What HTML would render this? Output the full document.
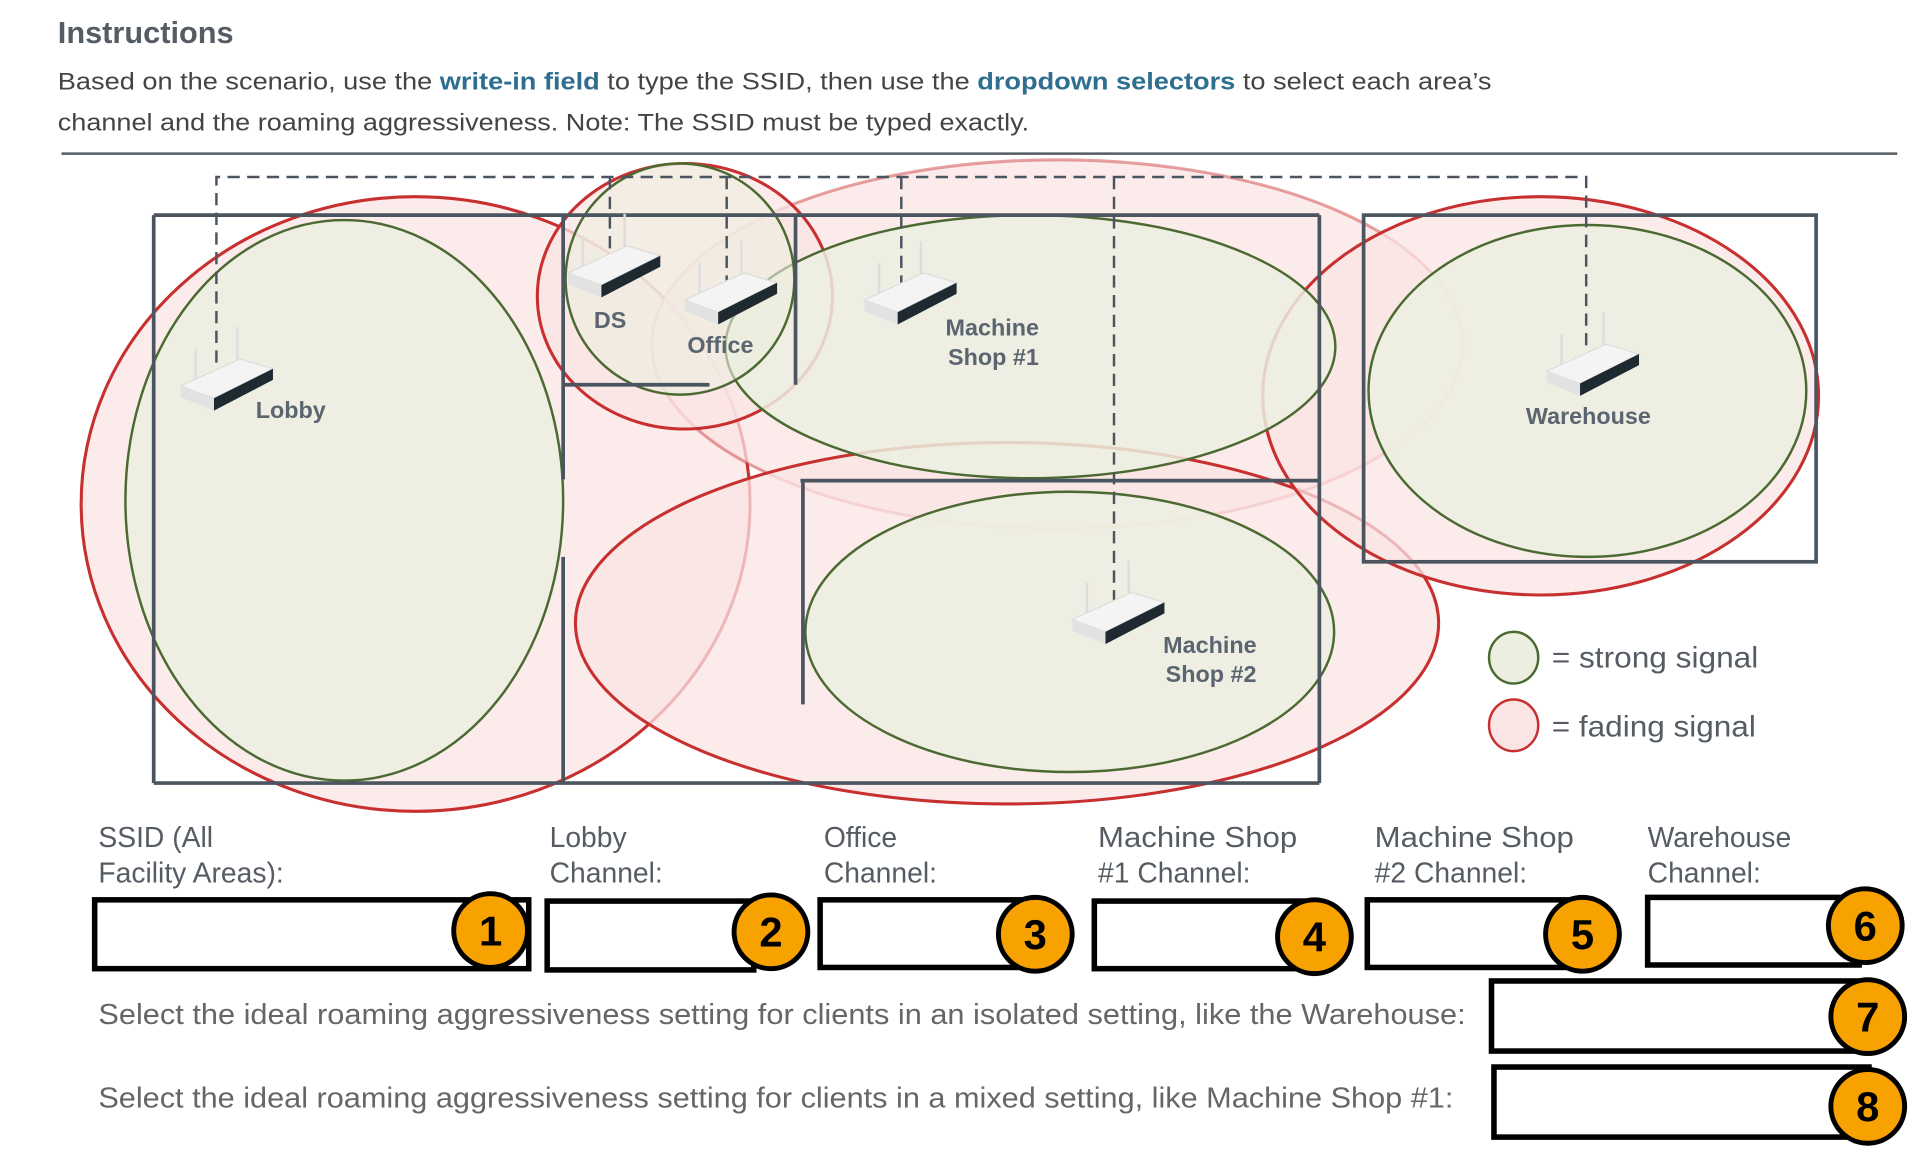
<!DOCTYPE html>
<html><head><meta charset="utf-8"><style>
html,body{margin:0;padding:0;background:#fff;}
svg{display:block}
text{font-family:"Liberation Sans",sans-serif;}
</style></head><body>
<svg width="1928" height="1158" viewBox="0 0 1568 942" preserveAspectRatio="none" xmlns="http://www.w3.org/2000/svg">
<defs>
<g id="rt">
<line x1="12" y1="22" x2="12" y2="-8" stroke="#ddd" stroke-width="2"/>
<line x1="46" y1="6" x2="46" y2="-26" stroke="#ddd" stroke-width="2"/>
<polygon points="0,22 48,0 75,8 27,32" fill="#f4f4f4" stroke="#ddd" stroke-width="1"/>
<polygon points="27,32 75,8 75,17 27,42" fill="#1e2a30"/>
<polygon points="0,22 27,32 27,42 0,31" fill="#e2e2e2"/>
</g>
</defs>
<text x="47" y="35" font-size="25" font-weight="bold" fill="#555c63">Instructions</text>
<text x="47" y="73" font-size="19.5" fill="#444" textLength="1166" lengthAdjust="spacingAndGlyphs">Based on the scenario, use the <tspan font-weight="bold" fill="#2e6e8e">write-in field</tspan> to type the SSID, then use the <tspan font-weight="bold" fill="#2e6e8e">dropdown selectors</tspan> to select each area’s</text>
<text x="47" y="106" font-size="19.5" fill="#444" textLength="790" lengthAdjust="spacingAndGlyphs">channel and the roaming aggressiveness. Note: The SSID must be typed exactly.</text>
<line x1="50" y1="125" x2="1543" y2="125" stroke="#555c63" stroke-width="2"/>

<g fill="#fbe4e4" fill-opacity="0.75" stroke="#c83030" stroke-width="2.5">
<ellipse cx="338" cy="410" rx="272" ry="250"/>
<ellipse cx="860" cy="280" rx="330" ry="150" stroke-opacity="0.45"/>
<ellipse cx="819" cy="507" rx="351" ry="147"/>
<ellipse cx="557" cy="241" rx="120" ry="108"/>
<ellipse cx="1253" cy="322" rx="226" ry="162"/>
</g>
<g fill="#eceee0" fill-opacity="0.85" stroke="#4b6a32" stroke-width="2">
<ellipse cx="280" cy="407" rx="178" ry="228"/>
<ellipse cx="838" cy="282" rx="248" ry="107"/>
<ellipse cx="870" cy="514" rx="215" ry="114"/>
<ellipse cx="553" cy="227" rx="93" ry="94" fill-opacity="0.6"/>
<ellipse cx="1291" cy="318" rx="178" ry="135"/>
</g>

<g stroke="#4a5560" stroke-width="3" fill="none">
<line x1="125" y1="175" x2="1073" y2="175"/>
<line x1="125" y1="175" x2="125" y2="637"/>
<line x1="125" y1="637" x2="1073" y2="637"/>
<line x1="1073" y1="175" x2="1073" y2="637"/>
<line x1="458" y1="175" x2="458" y2="390"/>
<line x1="458" y1="453" x2="458" y2="637"/>
<line x1="458" y1="313" x2="577" y2="313"/>
<line x1="647" y1="175" x2="647" y2="313"/>
<line x1="651" y1="391" x2="1073" y2="391"/>
<line x1="653" y1="391" x2="653" y2="573"/>
<rect x="1109" y="175" width="368" height="282"/>
</g>

<g stroke="#4a5560" stroke-width="2" stroke-dasharray="10,6" fill="none">
<polyline points="176,295 176,144 1290,144 1290,285"/>
<line x1="496" y1="144" x2="496" y2="212"/>
<line x1="591" y1="144" x2="591" y2="232"/>
<line x1="733" y1="144" x2="733" y2="232"/>
<line x1="906" y1="144" x2="906" y2="490"/>
</g>

<use href="#rt" x="147" y="292"/>
<use href="#rt" x="462" y="200"/>
<use href="#rt" x="557" y="222"/>
<use href="#rt" x="703" y="222"/>
<use href="#rt" x="1258" y="280"/>
<use href="#rt" x="872" y="482"/>

<g font-size="19" font-weight="bold" fill="#5a6570">
<text x="208" y="340">Lobby</text>
<text x="483" y="267">DS</text>
<text x="559" y="287">Office</text>
<text x="769" y="273">Machine</text>
<text x="771" y="297">Shop #1</text>
<text x="1241" y="345">Warehouse</text>
<text x="946" y="531">Machine</text>
<text x="948" y="555">Shop #2</text>
</g>

<ellipse cx="1231" cy="535" rx="20" ry="21" fill="#eceee0" stroke="#4b6a32" stroke-width="2"/>
<ellipse cx="1231" cy="590" rx="20" ry="21" fill="#fbe4e4" stroke="#c83030" stroke-width="2"/>
<text x="1262" y="543" font-size="24" fill="#555c63" textLength="168" lengthAdjust="spacingAndGlyphs">= strong signal</text>
<text x="1262" y="599" font-size="24" fill="#555c63" textLength="166" lengthAdjust="spacingAndGlyphs">= fading signal</text>

<g font-size="23" fill="#555c63">
<text x="80" y="689">SSID (All</text><text x="80" y="718">Facility Areas):</text>
<text x="447" y="689">Lobby</text><text x="447" y="718">Channel:</text>
<text x="670" y="689">Office</text><text x="670" y="718">Channel:</text>
<text x="893" y="689" textLength="162" lengthAdjust="spacingAndGlyphs">Machine Shop</text><text x="893" y="718">#1 Channel:</text>
<text x="1118" y="689" textLength="162" lengthAdjust="spacingAndGlyphs">Machine Shop</text><text x="1118" y="718">#2 Channel:</text>
<text x="1340" y="689">Warehouse</text><text x="1340" y="718">Channel:</text>
</g>
<g font-size="23" fill="#666">
<text x="80" y="833" textLength="1112" lengthAdjust="spacingAndGlyphs">Select the ideal roaming aggressiveness setting for clients in an isolated setting, like the Warehouse:</text>
<text x="80" y="901" textLength="1102" lengthAdjust="spacingAndGlyphs">Select the ideal roaming aggressiveness setting for clients in a mixed setting, like Machine Shop #1:</text>
</g>

<g fill="#fff" stroke="#000" stroke-width="4.5">
<rect x="77" y="732" width="353" height="56"/>
<rect x="445" y="733" width="168" height="56"/>
<rect x="667" y="732" width="175" height="55"/>
<rect x="890" y="733" width="172" height="55"/>
<rect x="1112" y="732" width="178" height="55"/>
<rect x="1340" y="730" width="172" height="55"/>
<rect x="1213" y="798" width="307" height="57"/>
<rect x="1215" y="868" width="305" height="57"/>
</g>
<g fill="#f7a200" stroke="#000" stroke-width="4">
<circle cx="399" cy="757" r="30"/>
<circle cx="627" cy="758" r="30"/>
<circle cx="842" cy="760" r="30"/>
<circle cx="1069" cy="762" r="30"/>
<circle cx="1287" cy="760" r="30"/>
<circle cx="1517" cy="753" r="30"/>
<circle cx="1519" cy="827" r="30"/>
<circle cx="1519" cy="900" r="30"/>
</g>
<g font-size="34" font-weight="bold" fill="#000" text-anchor="middle">
<text x="399" y="769">1</text>
<text x="627" y="770">2</text>
<text x="842" y="772">3</text>
<text x="1069" y="774">4</text>
<text x="1287" y="772">5</text>
<text x="1517" y="765">6</text>
<text x="1519" y="839">7</text>
<text x="1519" y="912">8</text>
</g>
</svg>
</body></html>
